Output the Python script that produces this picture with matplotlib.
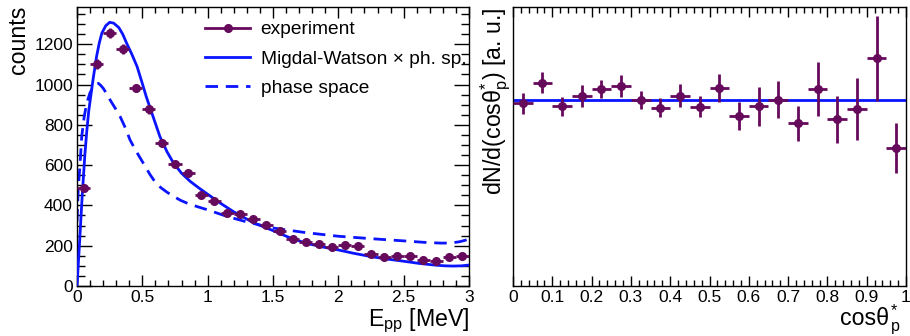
import matplotlib
matplotlib.use("Agg")
import matplotlib.pyplot as plt
from matplotlib.lines import Line2D
from matplotlib.ticker import MultipleLocator, NullLocator

plt.rcParams['font.family'] = ['Liberation Sans', 'DejaVu Sans']
plt.rcParams['mathtext.fontset'] = 'custom'
plt.rcParams['mathtext.rm'] = 'Liberation Sans'
plt.rcParams['mathtext.it'] = 'Liberation Sans'
plt.rcParams['mathtext.default'] = 'regular'

# ---------------- data: left panel ----------------
epp_centers = [0.05, 0.15, 0.25, 0.35, 0.45, 0.55, 0.65, 0.75, 0.85, 0.95,
               1.05, 1.15, 1.25, 1.35, 1.45, 1.55, 1.65, 1.75, 1.85, 1.95,
               2.05, 2.15, 2.25, 2.35, 2.45, 2.55, 2.65, 2.75, 2.85, 2.95]
epp_counts = [485, 1102, 1258, 1175, 983, 877, 708, 606, 561, 452,
              420, 364, 356, 331, 305, 273, 233, 217, 210, 192,
              202, 200, 157, 146, 151, 149, 131, 122, 146, 151]
epp_err = [16, 23, 25, 24, 22, 21, 19, 17, 17, 15,
           15, 14, 13, 13, 13, 12, 11, 11, 11, 10,
           10, 10, 9, 9, 9, 9, 8, 8, 9, 9]
epp_xerr = 0.05

# Migdal-Watson x phase space
mw_x = [0, 0.02, 0.04, 0.06, 0.075, 0.09, 0.11, 0.125, 0.15, 0.17, 0.19, 0.22,
        0.25, 0.28, 0.32, 0.35, 0.38, 0.42, 0.46, 0.5, 0.53, 0.58, 0.635, 0.69,
        0.74, 0.8, 0.865, 0.93, 0.99, 1.1, 1.2, 1.35, 1.5, 1.62, 1.75, 1.87, 2.0,
        2.12, 2.25, 2.37, 2.5, 2.62, 2.75, 2.82, 2.88, 2.94, 3.0]
mw_y = [0, 220, 450, 650, 770, 870, 965, 1035, 1140, 1205, 1255, 1292,
        1309, 1305, 1283, 1250, 1205, 1150, 1089, 1005, 940, 845, 741, 665,
        609, 560, 520, 488, 460, 410, 368, 314, 275, 242, 213, 195, 179,
        162, 146, 134, 123, 112, 103, 100, 99, 100, 104]

# phase space
ps_x = [0, 0.01, 0.023, 0.036, 0.055, 0.074, 0.1, 0.125, 0.145, 0.163, 0.18,
        0.2, 0.225, 0.253, 0.29, 0.33, 0.37, 0.406, 0.45, 0.508, 0.56, 0.61,
        0.65, 0.69, 0.74, 0.79, 0.84, 0.92, 0.99, 1.15, 1.3, 1.5, 1.75, 2.0,
        2.25, 2.5, 2.65, 2.78, 2.86, 2.93, 3.0]
ps_y = [320, 490, 600, 741, 840, 907, 960, 990, 1003, 1006, 997,
        982, 957, 924, 885, 841, 785, 725, 672, 609, 552, 505,
        484, 465, 445, 426, 412, 394, 380, 345, 318, 288, 265, 247,
        235, 224, 217, 213, 213, 220, 232]

# ---------------- data: right panel ----------------
cos_centers = [0.025, 0.075, 0.125, 0.175, 0.225, 0.275, 0.325, 0.375, 0.425, 0.475,
               0.525, 0.575, 0.625, 0.675, 0.725, 0.775, 0.825, 0.875, 0.925, 0.975]
cos_vals = [0.982, 1.092, 0.966, 1.020, 1.059, 1.074, 1.000, 0.959, 1.023, 0.964,
            1.065, 0.912, 0.966, 1.002, 0.874, 1.059, 0.897, 0.951, 1.225, 0.744]
cos_err = [0.058, 0.057, 0.051, 0.059, 0.050, 0.060, 0.051, 0.052, 0.061, 0.058,
           0.077, 0.075, 0.104, 0.100, 0.093, 0.146, 0.126, 0.165, 0.229, 0.135]
cos_xerr = 0.025
flat_x = [0.0, 1.0]
flat_y = [1.0, 1.0]

PURPLE = '#660a5c'
BLUE = '#0a14ff'

W, H = 910, 336
fig = plt.figure(figsize=(W / 100, H / 100), dpi=100)

def rect(x0, y0, x1, y1):
    return [x0 / W, 1 - y1 / H, (x1 - x0) / W, (y1 - y0) / H]

def fx(px):
    return px / W

def fy(py):
    return 1 - py / H

ax1 = fig.add_axes(rect(77, 7, 469, 286))
ax2 = fig.add_axes(rect(513, 7, 906, 286))

for ax in (ax1, ax2):
    for s in ax.spines.values():
        s.set_linewidth(1.0)

DASH = (0, (4.5, 2.8))

# left panel
ax1.plot(ps_x, ps_y, color=BLUE, lw=2.0, ls=DASH, zorder=2)
ax1.plot(mw_x, mw_y, color=BLUE, lw=2.0, zorder=3)
ax1.errorbar(epp_centers, epp_counts, yerr=epp_err, xerr=epp_xerr, fmt='o',
             color=PURPLE, ms=5.5, elinewidth=2.0, capsize=0, zorder=4)
ax1.set_xlim(0, 3)
ax1.set_ylim(0, 1385)
ax1.xaxis.set_minor_locator(MultipleLocator(0.1))
ax1.yaxis.set_major_locator(MultipleLocator(200))
ax1.yaxis.set_minor_locator(MultipleLocator(50))
ax1.set_xticks([0, 0.5, 1, 1.5, 2, 2.5, 3])
ax1.set_xticklabels(['0', '0.5', '1', '1.5', '2', '2.5', '3'])
ax1.tick_params(axis='both', which='both', direction='in', top=True, right=True,
                labelsize=12.5, width=1.0)
ax1.tick_params(axis='x', which='major', length=8, pad=3)
ax1.tick_params(axis='x', which='minor', length=4.5)
ax1.tick_params(axis='y', which='major', length=11, pad=3)
ax1.tick_params(axis='y', which='minor', length=5.5)

handles = [
    Line2D([], [], color=PURPLE, lw=2.0, marker='o', ms=5.5),
    Line2D([], [], color=BLUE, lw=2.0),
    Line2D([], [], color=BLUE, lw=2.0, ls=DASH),
]
labels = ['experiment', 'Migdal-Watson × ph. sp.', 'phase space']
ax1.legend(handles, labels, loc='upper left',
           bbox_to_anchor=(fx(205), fy(21)), bbox_transform=fig.transFigure,
           frameon=False, fontsize=13.8, numpoints=1, handlelength=2.35,
           handletextpad=0.55, labelspacing=0.62, borderpad=0, borderaxespad=0)

fig.text(fx(18), fy(6), 'counts', rotation=90, ha='center', va='top', fontsize=16.7)
fig.text(fx(469), fy(326), 'E$_{pp}$ [MeV]', ha='right', va='baseline', fontsize=16.7)

# right panel
ax2.plot(flat_x, flat_y, color=BLUE, lw=2.0, zorder=2)
ax2.errorbar(cos_centers, cos_vals, yerr=cos_err, xerr=cos_xerr, fmt='o',
             color=PURPLE, ms=5.5, elinewidth=2.0, capsize=0, zorder=4)
ax2.set_xlim(0, 1)
ax2.set_ylim(0, 1.5)
ax2.xaxis.set_minor_locator(MultipleLocator(0.02))
ax2.set_xticks([0, 0.1, 0.2, 0.3, 0.4, 0.5, 0.6, 0.7, 0.8, 0.9, 1.0])
ax2.set_xticklabels(['0', '0.1', '0.2', '0.3', '0.4', '0.5', '0.6', '0.7', '0.8', '0.9', '1'])
ax2.yaxis.set_major_locator(NullLocator())
ax2.yaxis.set_minor_locator(NullLocator())
ax2.tick_params(axis='x', which='both', direction='in', top=True, bottom=True,
                labelsize=12.5, width=1.0)
ax2.tick_params(axis='x', which='major', length=7, pad=3)
ax2.tick_params(axis='x', which='minor', length=4)

fig.text(fx(496), fy(7), 'dN/d(cosθ$_{p}^{*}$) [a. u.]', rotation=90,
         ha='center', va='top', fontsize=16.7)
# x label "cosθ_p^*": main text plus a stacked sub/superscript block
fig.text(fx(889), fy(325), 'cosθ', ha='right', va='baseline', fontsize=16.7)
fig.text(fx(891), fy(331), '*\np', ha='left', va='baseline', fontsize=11.5,
         linespacing=1.1, multialignment='left')

fig.savefig('out.png', dpi=100)
